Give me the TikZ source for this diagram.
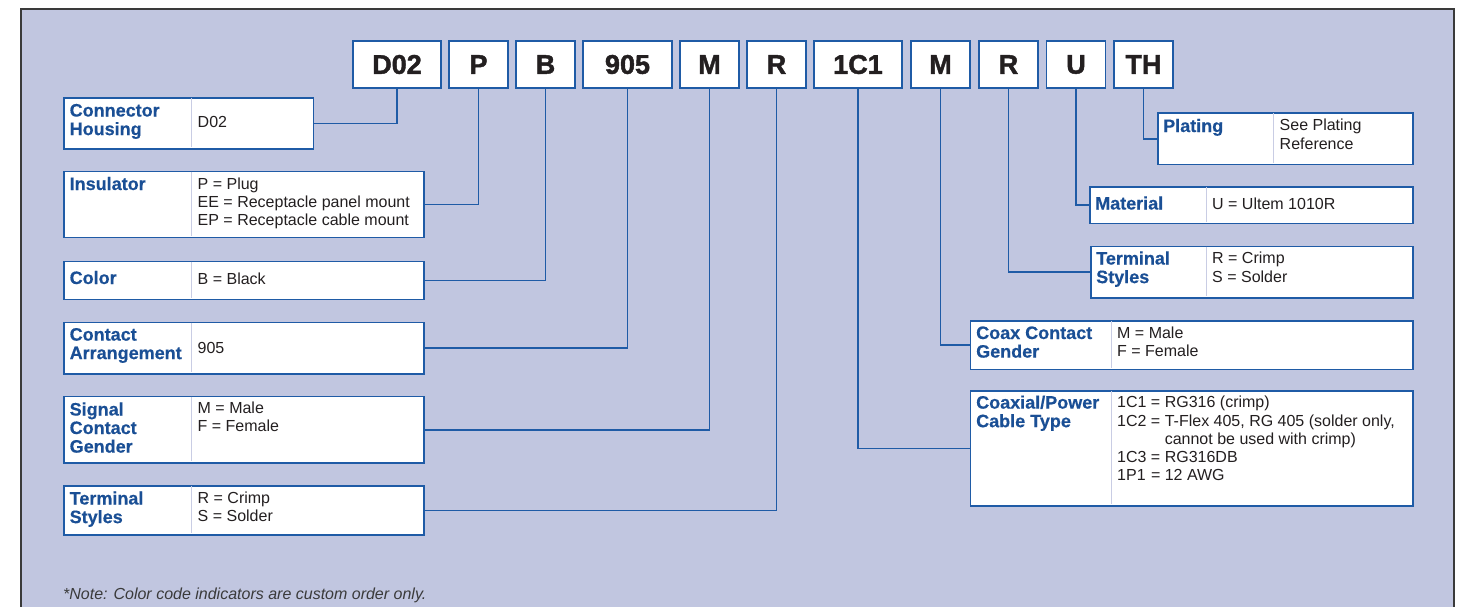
\documentclass[tikz,border=0pt]{standalone}
\usepackage{fontspec}
\setmainfont{Liberation Sans}
\newfontfamily\codefont[FakeBold=1.6]{Liberation Sans Bold}
\newfontfamily\ttlfont[FakeBold=0.4]{Liberation Sans Bold}
\definecolor{panel}{HTML}{C1C6E0}
\definecolor{boxblue}{HTML}{1F5BA6}
\definecolor{titleblue}{HTML}{1A4F95}
\definecolor{divline}{HTML}{C9CDE4}
\definecolor{txt}{HTML}{231F20}
\definecolor{notegray}{HTML}{3A3A3A}
\definecolor{frame}{HTML}{3A3A3A}
\newcommand\mylines[1]{\begin{tabular}[t]{@{}l@{}}#1\end{tabular}}
\tikzset{
  code/.style={draw=boxblue, line width=1.6pt, fill=white, minimum height=47pt, inner sep=0pt, text=txt, font=\fontsize{27}{27}\codefont},
  infobox/.style={draw=boxblue, line width=1.8pt, fill=white, inner sep=0pt, anchor=north west},
  ttl/.style={anchor=base west, inner sep=0pt, text=titleblue, font=\fontsize{18}{18.5}\ttlfont},
  val/.style={anchor=base west, inner sep=0pt, text=txt, font=\fontsize{16}{18.3}\selectfont},
  link/.style={draw=boxblue, line width=1.8pt},
  divider/.style={draw=divline, line width=1pt},
}
\begin{document}
\begin{tikzpicture}[x=1pt,y=-1pt]
\useasboundingbox (0,0) rectangle (1463,606);
\fill[panel] (21,9) rectangle (1454,612);
\draw[frame, line width=2pt] (21,612) -- (21,9) -- (1454,9) -- (1454,612);

% code boxes
\node[code, minimum width=88pt] (kD) at (397,64.5) {D02};
\node[code, minimum width=59pt] (kP) at (478.5,64.5) {P};
\node[code, minimum width=59pt] (kB) at (545.5,64.5) {B};
\node[code, minimum width=89pt] (kA) at (627.5,64.5) {905};
\node[code, minimum width=59pt] (kM) at (709.5,64.5) {M};
\node[code, minimum width=59pt] (kR) at (776.5,64.5) {R};
\node[code, minimum width=88pt] (kC) at (858,64.5) {1C1};
\node[code, minimum width=59pt] (kM2) at (940.5,64.5) {M};
\node[code, minimum width=59pt] (kR2) at (1008.5,64.5) {R};
\node[code, minimum width=59pt] (kU) at (1076,64.5) {U};
\node[code, minimum width=59pt] (kT) at (1143.5,64.5) {TH};

% left boxes
\node[infobox, minimum width=249.5pt, minimum height=51pt] (bHous) at (63,97) {};
\draw[divider] (191,98) -- (191,147);
\node[ttl] (tHous) at (69.5,116.5) {\mylines{Connector\\Housing}};
\node[val] (vHous) at (197.5,127.3) {D02};

\node[infobox, minimum width=360pt, minimum height=66pt] (bIns) at (63,170.5) {};
\draw[divider] (191,171.5) -- (191,235.5);
\node[ttl] (tIns) at (69.5,190) {Insulator};
\node[val] (vIns) at (197.5,189) {\mylines{P = Plug\\EE = Receptacle panel mount\\EP = Receptacle cable mount}};

\node[infobox, minimum width=360pt, minimum height=38pt] (bCol) at (63,260.5) {};
\draw[divider] (191,261.5) -- (191,297.5);
\node[ttl] (tCol) at (69.5,284) {Color};
\node[val] (vCol) at (197.5,284) {B = Black};

\node[infobox, minimum width=360pt, minimum height=51.5pt] (bArr) at (63,321.5) {};
\draw[divider] (191,322.5) -- (191,372);
\node[ttl] (tArr) at (69.5,340.6) {\mylines{Contact\\Arrangement}};
\node[val] (vArr) at (197.5,353.7) {905};

\node[infobox, minimum width=360pt, minimum height=66.5pt] (bSig) at (63,395.5) {};
\draw[divider] (191,396.5) -- (191,461);
\node[ttl] (tSig) at (69.5,415.5) {\mylines{Signal\\Contact\\Gender}};
\node[val] (vSig) at (197.5,413.5) {\mylines{M = Male\\F = Female}};

\node[infobox, minimum width=360pt, minimum height=49pt] (bTerm) at (63,485) {};
\draw[divider] (191,486) -- (191,533);
\node[ttl] (tTerm) at (69.5,504.5) {\mylines{Terminal\\Styles}};
\node[val] (vTerm) at (197.5,503.3) {\mylines{R = Crimp\\S = Solder}};

% right boxes
\node[infobox, minimum width=255pt, minimum height=51.5pt] (bPlat) at (1157,112) {};
\draw[divider] (1273.5,113) -- (1273.5,162.5);
\node[ttl] (tPlat) at (1163,132) {Plating};
\node[val] (vPlat) at (1279.5,130.7) {\mylines{See Plating\\Reference}};

\node[infobox, minimum width=323pt, minimum height=36.5pt] (bMat) at (1089,186) {};
\draw[divider] (1206,187) -- (1206,221.5);
\node[ttl] (tMat) at (1095,209.5) {Material};
\node[val] (vMat) at (1212,209) {U = Ultem 1010R};

\node[infobox, minimum width=322pt, minimum height=51.5pt] (bTermR) at (1090,245.5) {};
\draw[divider] (1206,246.5) -- (1206,296);
\node[ttl] (tTermR) at (1096,264.5) {\mylines{Terminal\\Styles}};
\node[val] (vTermR) at (1212,263.7) {\mylines{R = Crimp\\S = Solder}};

\node[infobox, minimum width=442.5pt, minimum height=48.5pt] (bGen) at (969.5,320) {};
\draw[divider] (1111,321) -- (1111,367.5);
\node[ttl] (tGen) at (976,339) {\mylines{Coax Contact\\Gender}};
\node[val] (vGen) at (1117,338.3) {\mylines{M = Male\\F = Female}};

\node[infobox, minimum width=442.5pt, minimum height=115pt] (bCab) at (969.5,390) {};
\draw[divider] (1111,391) -- (1111,504);
\node[ttl] (tCab) at (976,408.6) {\mylines{Coaxial/Power\\Cable Type}};
\node[val] (vCab) at (1117,407.7) {\begin{tabular}[t]{@{}l@{ }c@{ }l@{}}1C1 & = & RG316 (crimp)\\1C2 & = & T-Flex 405, RG 405 (solder only,\\ & & cannot be used with crimp)\\1C3 & = & RG316DB\\1P1 & = & 12 AWG\end{tabular}};

% connectors
\draw[link] (kD.south) |- (bHous.east);
\draw[link] (kP.south) |- (bIns.east);
\draw[link] (kB.south) |- (bCol.east);
\draw[link] (kA.south) |- (bArr.east);
\draw[link] (kM.south) |- (bSig.east);
\draw[link] (kR.south) |- (bTerm.east);
\draw[link] (kC.south) |- (bCab.west);
\draw[link] (kM2.south) |- (bGen.west);
\draw[link] (kR2.south) |- (bTermR.west);
\draw[link] (kU.south) |- (bMat.west);
\draw[link] (kT.south) |- (bPlat.west);

\node[anchor=base west, inner sep=0pt, text=notegray, font=\fontsize{16}{18}\selectfont\itshape] (note) at (63,599.5) {*Note: Color code indicators are custom order only.};
\end{tikzpicture}
\end{document}
